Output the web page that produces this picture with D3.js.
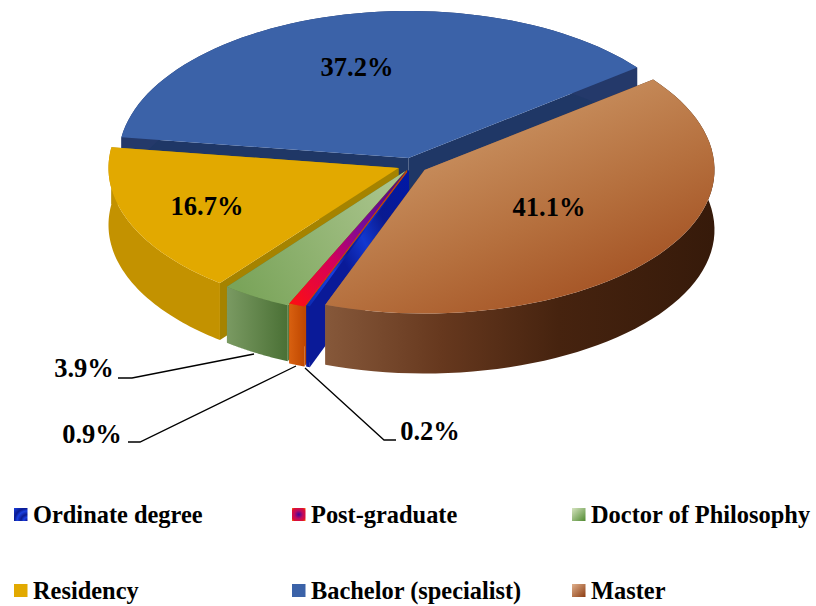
<!DOCTYPE html>
<html><head><meta charset="utf-8">
<script src="https://cdn.jsdelivr.net/npm/d3@7/dist/d3.min.js"></script>
<style>html,body{margin:0;padding:0;background:#fff}svg{display:block}
text{font-family:"Liberation Serif","Times New Roman",serif;font-weight:bold;fill:#000}</style>
</head><body><svg id="c" width="816" height="606"></svg>
<script>
// Data
const categories = ["Ordinate degree","Post-graduate","Doctor of Philosophy","Residency","Bachelor (specialist)","Master"];
const shares = [0.2,0.9,3.9,16.7,37.2,41.1];
const shareLabels = ["0.2%","0.9%","3.9%","16.7%","37.2%","41.1%"];
// Layout
const rx=290, ryBack=147;
const apexes={ "Ordinate degree":[409,170],"Post-graduate":[407,170],"Doctor of Philosophy":[405.5,171],
  "Residency":[398.5,168],"Bachelor (specialist)":[408.5,158],"Master":[424.5,170]};
const ryFront={ "Ordinate degree":145,"Post-graduate":146,"Doctor of Philosophy":147,
  "Residency":146,"Bachelor (specialist)":147,"Master":143.5};
const depths={ "Ordinate degree":61,"Post-graduate":60,"Doctor of Philosophy":56,
  "Residency":57,"Bachelor (specialist)":57,"Master":60};
const startAngle=200*Math.PI/180;
const svg=d3.select("#c");
const defs=svg.append("defs");
function grad(id,c,dir,type){
  const g= type==="r"? defs.append("radialGradient").attr("id",id).attr("cx",dir[0]).attr("cy",dir[1]).attr("r",dir[2])
    : defs.append("linearGradient").attr("id",id).attr("x1",dir[0]).attr("y1",dir[1]).attr("x2",dir[2]).attr("y2",dir[3]);
  c.forEach(s=>g.append("stop").attr("offset",s[0]).attr("stop-color",s[1]));
}
grad("mTop",[[0,"#d2a070"],[0.6,"#b56f3d"],[1,"#a04c1e"]],[0.2,0.05,0.85,0.95]);
grad("mWall",[[0,"#86583a"],[0.3,"#66381e"],[0.6,"#46230f"],[1,"#361a0a"]],[0,0,1,0]);
grad("mCut",[[0,"#9a6a4a"],[1,"#5a3018"]],[0,0,1,0]);
grad("phdTop",[[0,"#7aa45a"],[1,"#a9c48c"]],[0,0.7,1,0.3]);
grad("phdWall",[[0,"#7a9a62"],[1,"#4a7035"]],[0,0,1,0]);
grad("pgTop",[[0,"#ff0f10"],[0.35,"#d4005a"],[0.6,"#7a0a9a"],[1,"#4a0a7a"]],[0,1,1,0]);
grad("pgWall",[[0,"#d86010"],[1,"#c04800"]],[0,0,1,0]);
grad("oTop",[[0,"#0a2ab0"],[0.25,"#1a40e0"],[0.4,"#0a1c90"],[0.6,"#1030c8"],[1,"#000a90"]],[0,1,1,0]);
grad("oCut",[[0,"#0a1a98"],[0.45,"#0a1a98"],[0.6,"#1238d0"],[0.75,"#0a1a90"],[1,"#0018a8"]],[0,1,1,0]);
grad("lgO",[[0,"#0a0a90"],[0.2,"#1a40e0"],[0.35,"#0a1a90"],[0.55,"#1a40e0"],[0.7,"#0a1a90"],[1,"#1a40e0"]],[1,1,1.4],"r");
grad("lgP",[[0,"#3a0a9a"],[0.45,"#c00a60"],[0.8,"#e01030"],[1,"#ff8000"]],[0.5,0.5,0.7],"r");
grad("lgD",[[0,"#d6e4c0"],[1,"#4f8a30"]],[0,0,1,1]);
grad("lgM",[[0,"#e0b08c"],[1,"#8c3c12"]],[0,0,1,1]);
const styles={
 "Ordinate degree":{top:"url(#oTop)",wall:"#0a1a98",cut:"url(#oCut)",lg:"url(#lgO)"},
 "Post-graduate":{top:"url(#pgTop)",wall:"url(#pgWall)",cut:"#c04800",lg:"url(#lgP)"},
 "Doctor of Philosophy":{top:"url(#phdTop)",wall:"url(#phdWall)",cut:"#5a7c40",lg:"url(#lgD)"},
 "Residency":{top:"#e2a900",wall:"#c39200",cut:"#a58300",lg:"#e2a900"},
 "Bachelor (specialist)":{top:"#3b62a8",wall:"#24396a",cut:"#1f3766",lg:"#3b62a8"},
 "Master":{top:"url(#mTop)",wall:"url(#mWall)",cut:"url(#mCut)",lg:"url(#lgM)"}
};
const pie=d3.pie().sort(null).startAngle(startAngle).endAngle(startAngle+2*Math.PI);
const arcs=pie(shares).map((a,i)=>({...a,name:categories[i],label:shareLabels[i]}));
const line=d3.line();
function P(n,th,z){const ax=apexes[n],c=Math.cos(th);return [ax[0]+rx*Math.sin(th),ax[1]-(c>0?ryBack:ryFront[n])*c+z*depths[n]];}
function samples(a,b){return d3.range(0,61).map(i=>a+(b-a)*i/60);}
const order=["Bachelor (specialist)","Residency","Doctor of Philosophy","Post-graduate","Ordinate degree","Master"];
const g=svg.append("g");
order.forEach(n=>{
  const a=arcs.find(d=>d.name===n),ax=apexes[n],s=styles[n];
  [a.startAngle,a.endAngle].forEach(t=>{
    g.append("path").attr("d",line([[ax[0],ax[1]],P(n,t,0),P(n,t,1),[ax[0],ax[1]+depths[n]]])+"Z").attr("fill",s.cut);
  });
  const ts=samples(a.startAngle,a.endAngle);
  const up=ts.map(t=>P(n,t,0)),dn=ts.map(t=>P(n,t,1)).reverse();
  g.append("path").attr("d",line(up.concat(dn))+"Z").attr("fill",s.wall);
  g.append("path").attr("d",line([[ax[0],ax[1]]].concat(up))+"Z").attr("fill",s.top);
});
// Labels
const labelPos={"37.2%":[357,67],"41.1%":[549,207],"16.7%":[207,206],"3.9%":[84,368],"0.9%":[92,434],"0.2%":[430,431]};
shareLabels.forEach(l=>svg.append("text").attr("x",labelPos[l][0]).attr("y",labelPos[l][1]).attr("text-anchor","middle")
  .attr("dominant-baseline","central").attr("font-size",26.5).text(l));
// Leaders
const leaders=[[[118,378],[132,378],[254,354]],[[128,442],[140,442],[296,366]],[[305,368],[384,440],[396,440]]];
leaders.forEach(p=>svg.append("path").attr("d",line(p)).attr("fill","none").attr("stroke","#000").attr("stroke-width",1.3));
// Legend
const cols=[14,292,572],rows=[514,590];
categories.forEach((n,i)=>{
  const x=cols[i%3],y=rows[Math.floor(i/3)];
  svg.append("rect").attr("x",x).attr("y",y-6).attr("width",13.5).attr("height",13).attr("fill",styles[n].lg);
  svg.append("text").attr("x",x+19).attr("y",y).attr("dominant-baseline","central").attr("font-size",24.4).text(n);
});
</script></body></html>
